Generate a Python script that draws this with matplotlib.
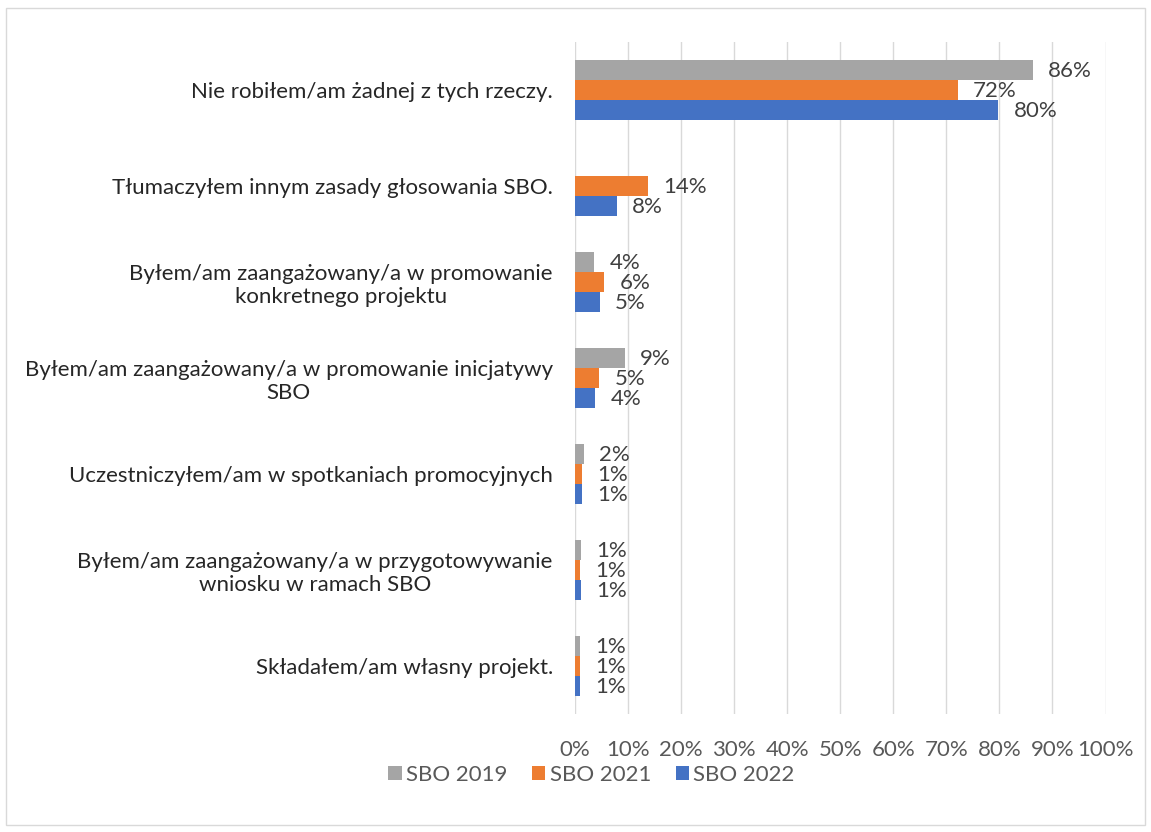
import numpy as np
import matplotlib
matplotlib.use("Agg")
import matplotlib.pyplot as plt
from matplotlib.patches import Rectangle

# categories from top to bottom
categories = [
    "Nie robiłem/am żadnej z tych rzeczy.",
    "Tłumaczyłem innym zasady głosowania SBO.",
    "Byłem/am zaangażowany/a w promowanie\nkonkretnego projektu",
    "Byłem/am zaangażowany/a w promowanie inicjatywy\nSBO",
    "Uczestniczyłem/am w spotkaniach promocyjnych",
    "Byłem/am zaangażowany/a w przygotowywanie\nwniosku w ramach SBO",
    "Składałem/am własny projekt.",
]
series = ["SBO 2019", "SBO 2021", "SBO 2022"]
sbo_2019 = [86.3, np.nan, 3.6, 9.4, 1.6, 1.1, 0.95]
sbo_2021 = [72.1, 13.8, 5.5, 4.6, 1.3, 1.0, 0.9]
sbo_2022 = [79.8, 7.9, 4.7, 3.8, 1.3, 1.1, 0.9]
colors = ["#A5A5A5", "#ED7D31", "#4472C4"]
xticks = np.arange(0, 101, 10)

plt.rcParams["font.family"] = ["Lato", "DejaVu Sans"]
fs = 16

fig = plt.figure(figsize=(11.51, 8.32), dpi=100)
ax = fig.add_axes([0.4996, 0.142, 0.4609, 0.8075])

n = len(categories)
y = np.arange(n)
h = 0.208
for i, (vals, col, name) in enumerate(zip([sbo_2019, sbo_2021, sbo_2022], colors, series)):
    pos = y + (i - 1) * h
    vals = np.array(vals, dtype=float)
    ok = ~np.isnan(vals)
    ax.barh(pos[ok], vals[ok], height=h, color=col, label=name, zorder=3)
    for p, v in zip(pos[ok], vals[ok]):
        ax.annotate(f"{v:.0f}%", (v, p), xytext=(11, -1), textcoords="offset points",
                    ha="left", va="center", fontsize=fs, color="#404040")

ax.set_ylim(n - 0.5, -0.5)
ax.set_xlim(0, 100)
ax.set_yticks(y)
ax.set_yticklabels(categories, fontsize=fs, color="#262626", multialignment="center")
ax.set_xticks(xticks)
ax.set_xticklabels([f"{t}%" for t in xticks], fontsize=fs, color="#595959")
ax.tick_params(axis="both", length=0)
ax.tick_params(axis="y", pad=16)
ax.tick_params(axis="x", pad=19)
ax.grid(axis="x", color="#D9D9D9", linewidth=1, zorder=0)
for s in ax.spines.values():
    s.set_visible(False)

fig.legend(*ax.get_legend_handles_labels(), loc="center", bbox_to_anchor=(0.514, 0.069),
           ncol=3, frameon=False, fontsize=fs, handlelength=0.6, handleheight=0.6,
           handletextpad=0.2, columnspacing=1.1, labelcolor="#595959")

fig.patches.append(Rectangle((0.005, 0.008), 0.99, 0.982, transform=fig.transFigure,
                             fill=False, edgecolor="#D9D9D9", linewidth=1))

fig.savefig("out.png", dpi=100)
